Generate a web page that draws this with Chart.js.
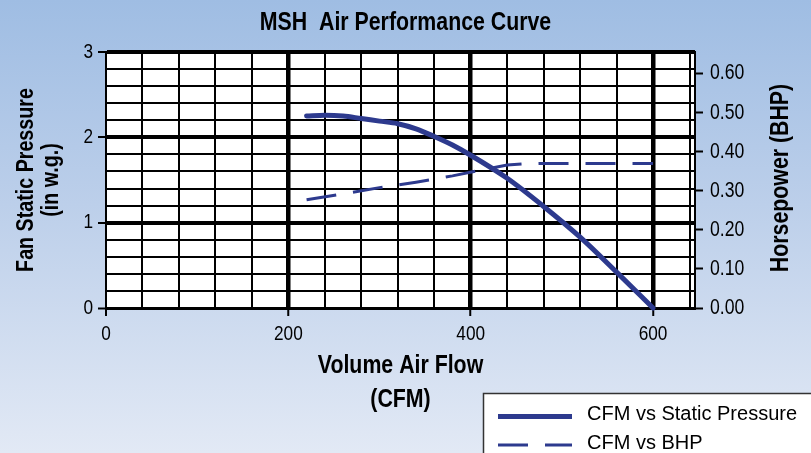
<!DOCTYPE html>
<html>
<head>
<meta charset="utf-8">
<title>MSH Air Performance Curve</title>
<script src="https://cdn.jsdelivr.net/npm/chart.js@4.4.1/dist/chart.umd.min.js"></script>
<style>
  html, body { margin: 0; padding: 0; }
  body {
    width: 811px; height: 453px; overflow: hidden;
    background: linear-gradient(to bottom, #9fbde3 0%, #bccfea 45%, #e2e9f5 100%);
  }
  canvas { display: block; }
</style>
</head>
<body>
<canvas id="fanChart" width="811" height="453"></canvas>
<script>
// values
const cfmStatic = [220, 240, 260, 280, 300, 320, 340, 360, 380, 400, 440, 480, 520, 560, 600];
const staticPressure = [2.25, 2.26, 2.25, 2.22, 2.19, 2.16, 2.10, 2.01, 1.91, 1.79, 1.52, 1.19, 0.83, 0.42, 0.00];

const cfmBhp = [220, 260, 300, 340, 380, 420, 440, 460, 480, 600];
const bhp = [0.277, 0.292, 0.308, 0.322, 0.338, 0.357, 0.366, 0.369, 0.37, 0.37];

// grid / tick values
const cfmTicks = [0, 40, 80, 120, 160, 200, 240, 280, 320, 360, 400, 440, 480, 520, 560, 600, 640];
const cfmLabels = [0, 200, 400, 600];
const pressureTicks = [0, 0.2, 0.4, 0.6, 0.8, 1, 1.2, 1.4, 1.6, 1.8, 2, 2.2, 2.4, 2.6, 2.8, 3];
const pressureLabels = [0, 1, 2, 3];
const bhpTicks = [0, 0.1, 0.2, 0.3, 0.4, 0.5, 0.6];

const chartTitle = 'MSH  Air Performance Curve';
const bhpTitle = 'Horsepower (BHP)';

const SANS = "'Liberation Sans', Arial, sans-serif";
const BLUE = '#2d3a8e';

function pts(xs, ys){
  return xs.map((x, i) => ({x: x, y: ys[i]}));
}

// no condensed face installed, so squeeze text horizontally (fillText maxWidth)
const SQUEEZE = 0.82;
const canvas = document.getElementById('fanChart');
const ctx = canvas.getContext('2d');
const rawFillText = ctx.fillText.bind(ctx);
ctx.fillText = function(text, x, y, maxWidth){
  const w = this.measureText(text).width * SQUEEZE;
  rawFillText(text, x, y, maxWidth !== undefined ? Math.min(maxWidth, w) : w);
};

// white paper behind the grid, plus the right title and the boxed legend
const paperPlugin = {
  id: 'paper',
  beforeDraw(chart){
    const {ctx, chartArea: a} = chart;
    ctx.save();
    ctx.fillStyle = '#fff';
    ctx.fillRect(a.left, a.top, a.right - a.left, a.bottom - a.top);
    ctx.restore();
  },
  afterDraw(chart){
    const ctx = chart.ctx;
    // right axis title reads bottom to top
    ctx.save();
    ctx.translate(781, 178);
    ctx.rotate(-Math.PI / 2);
    ctx.font = 'bold 26px ' + SANS;
    ctx.fillStyle = '#000';
    ctx.textAlign = 'center';
    ctx.textBaseline = 'middle';
    ctx.fillText(bhpTitle, 0, 0);
    ctx.restore();

    // legend box, runs off the bottom right corner
    ctx.save();
    ctx.fillStyle = '#fff';
    ctx.fillRect(483.5, 393.5, 340, 80);
    ctx.strokeStyle = '#333';
    ctx.lineWidth = 1.5;
    ctx.strokeRect(483.5, 393.5, 340, 80);
    const rows = [416.5, 445];
    chart.data.datasets.forEach((ds, i) => {
      const y = rows[i];
      ctx.beginPath();
      ctx.strokeStyle = ds.borderColor;
      ctx.lineWidth = ds.borderWidth;
      ctx.setLineDash(ds.borderDash || []);
      ctx.lineCap = 'butt';
      ctx.moveTo(498, y);
      ctx.lineTo(572, y);
      ctx.stroke();
      ctx.setLineDash([]);
      ctx.fillStyle = '#000';
      ctx.font = '20px ' + SANS;
      ctx.textAlign = 'left';
      ctx.textBaseline = 'middle';
      rawFillText(ds.label, 587, y - 2);   // legend face is not condensed
    });
    ctx.restore();
  }
};

const chart = new Chart(ctx, {
  type: 'line',
  data: {
    datasets: [
      {
        label: 'CFM vs Static Pressure',
        data: pts(cfmStatic, staticPressure),
        yAxisID: 'y',
        borderColor: BLUE,
        borderWidth: 5,
        borderCapStyle: 'round',
        cubicInterpolationMode: 'monotone',
        pointRadius: 0,
        fill: false,
        clip: false
      },
      {
        label: 'CFM vs BHP',
        data: pts(cfmBhp, bhp),
        yAxisID: 'y1',
        borderColor: BLUE,
        borderWidth: 3,
        borderDash: [30, 17],
        tension: 0,
        pointRadius: 0,
        fill: false,
        clip: false
      }
    ]
  },
  options: {
    responsive: false,
    animation: false,
    layout: {padding: 0},
    plugins: {
      legend: {display: false},
      tooltip: {enabled: false},
      title: {
        display: true,
        text: chartTitle,
        color: '#000',
        font: {family: SANS, size: 26, weight: 'bold', lineHeight: 1.2},
        padding: {top: 7, bottom: 13.8}
      }
    },
    scales: {
      x: {
        type: 'linear',
        min: 0,
        max: 646,
        afterBuildTicks: s => { s.ticks = cfmTicks.map(v => ({value: v})); },
        afterFit: s => { s.height = 145; },
        grid: {
          color: '#000',
          lineWidth: c => (cfmLabels.includes(c.tick.value) && c.tick.value !== 0) ? 4.5 : 2,
          tickLength: 8,
          tickWidth: 2,
          tickColor: c => cfmLabels.includes(c.tick.value) ? '#000' : 'rgba(0,0,0,0)'
        },
        border: {display: true, color: '#000', width: 3},
        ticks: {
          autoSkip: false, maxRotation: 0, padding: 6, color: '#000',
          font: {family: SANS, size: 21},
          callback: v => cfmLabels.includes(v) ? String(v) : ''
        },
        title: {
          display: true,
          text: ['Volume Air Flow', '(CFM)'],
          color: '#000',
          font: {family: SANS, size: 26, weight: 'bold', lineHeight: 1.32},
          padding: {top: 0, bottom: 36}
        }
      },
      y: {
        type: 'linear',
        position: 'left',
        min: 0,
        max: 3,
        afterBuildTicks: s => { s.ticks = pressureTicks.map(v => ({value: v})); },
        afterFit: s => { s.width = 106; },
        grid: {
          color: '#000',
          lineWidth: c => c.tick.value === 0 ? 3 : (pressureLabels.includes(c.tick.value) ? 4 : 2),
          tickLength: 8,
          tickWidth: 2,
          tickColor: c => pressureLabels.includes(c.tick.value) ? '#000' : 'rgba(0,0,0,0)'
        },
        border: {display: true, color: '#000', width: 2},
        ticks: {
          autoSkip: false, padding: 5, color: '#000',
          font: {family: SANS, size: 21},
          callback: v => pressureLabels.includes(v) ? String(v) : ''
        },
        title: {
          display: true,
          text: ['Fan Static Pressure', '(in w.g.)'],
          color: '#000',
          font: {family: SANS, size: 24, weight: 'bold', lineHeight: 1.04},
          padding: {top: 14, bottom: 0}
        }
      },
      y1: {
        type: 'linear',
        position: 'right',
        min: 0,
        max: 0.655,
        afterBuildTicks: s => { s.ticks = bhpTicks.map(v => ({value: v})); },
        afterFit: s => { s.width = 116; },
        grid: {drawOnChartArea: false, color: '#000', tickLength: 8, tickWidth: 2, tickColor: '#000'},
        border: {display: true, color: '#000', width: 2},
        ticks: {
          autoSkip: false, padding: 7, color: '#000',
          font: {family: SANS, size: 21.5},
          callback: v => v.toFixed(2)
        },
        title: {display: false}
      }
    }
  },
  plugins: [paperPlugin]
});
</script>
</body>
</html>
